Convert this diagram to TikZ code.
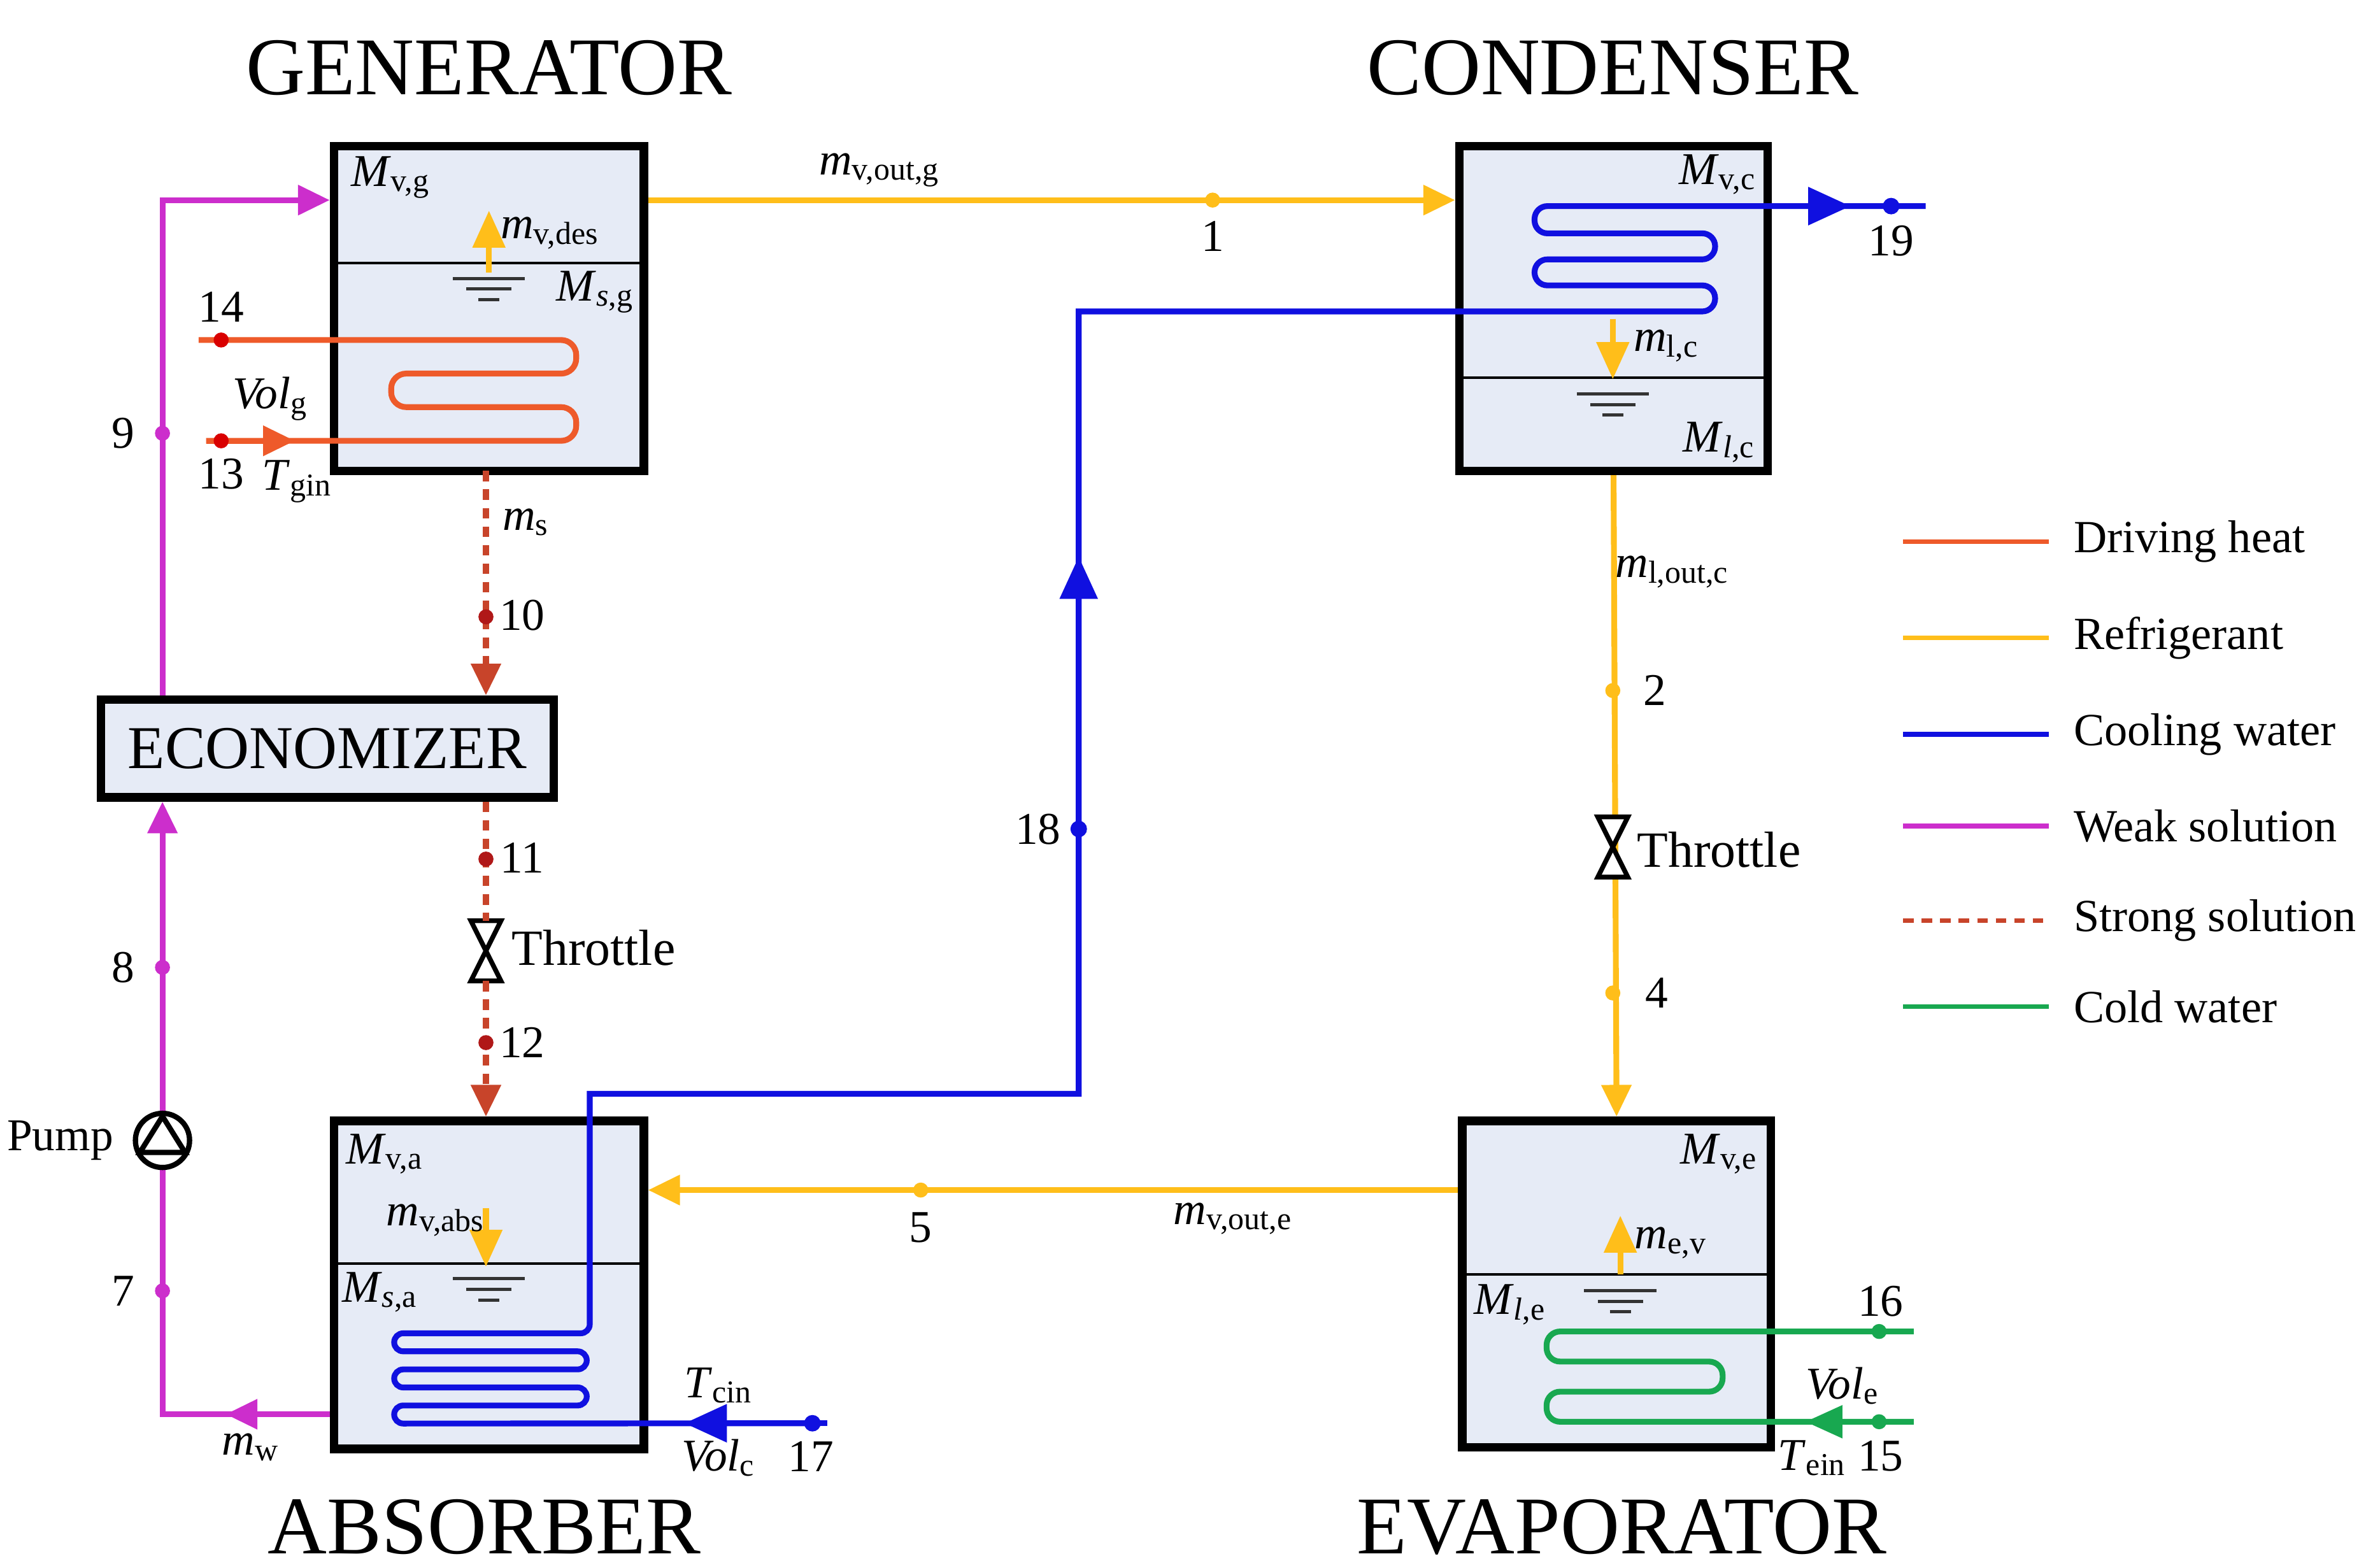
\documentclass[tikz,border=0pt]{standalone}
\usepackage{fontspec}
\setmainfont{Liberation Serif}
\usetikzlibrary{arrows.meta}
\definecolor{boxfill}{HTML}{E6EBF6}
\definecolor{heatc}{HTML}{EE5A2A}
\definecolor{refc}{HTML}{FFBE1A}
\definecolor{cwc}{HTML}{1010E0}
\definecolor{weakc}{HTML}{CC2ECC}
\definecolor{strongc}{HTML}{C8442A}
\definecolor{sdotc}{HTML}{B01818}
\definecolor{coldc}{HTML}{18A850}
\newcommand{\qty}[2]{\textit{#1}\textsubscript{#2}}
\tikzset{
  box/.style={draw, line width=1.6pt, fill=boxfill, inner sep=0pt},
  ref/.style={refc, line width=1.1pt},
  cw/.style={cwc, line width=1.1pt},
  heat/.style={heatc, line width=1.1pt},
  weak/.style={weakc, line width=1.1pt},
  strong/.style={strongc, line width=1.1pt, dashed, dash pattern=on 2pt off 1.5pt},
  cold/.style={coldc, line width=1.1pt},
  tip/.style={-{Triangle[length=6pt,width=5.5pt]}},
  lab/.style={font=\fontsize{8.6}{10}\selectfont, inner sep=1pt},
  title/.style={font=\fontsize{15.5}{17}\selectfont},
  leg/.style={font=\fontsize{8.7}{10}\selectfont, anchor=west},
  valve/.style={draw, fill=white, line width=0.9pt},
}
\begin{document}
\begin{tikzpicture}
\useasboundingbox (0,0) rectangle (15.68,-10.42);

% vessels
\node[box, minimum width=2.06cm, minimum height=2.16cm] (gen) at (3.25,-2.05) {};
\node[box, minimum width=2.05cm, minimum height=2.16cm] (cond) at (10.725,-2.05) {};
\node[box, minimum width=2.06cm, minimum height=2.18cm] (abs) at (3.25,-8.54) {};
\node[box, minimum width=2.05cm, minimum height=2.17cm] (evap) at (10.745,-8.535) {};
\node[box, minimum width=3.01cm, minimum height=0.65cm, font=\fontsize{11.5}{13}\selectfont] (econ) at (2.175,-4.975) {ECONOMIZER};

\draw[line width=0.5pt] (2.22,-1.75) -- (4.28,-1.75);
\draw[line width=0.5pt] (9.70,-2.51) -- (11.75,-2.51);
\draw[line width=0.5pt] (2.22,-8.40) -- (4.28,-8.40);
\draw[line width=0.5pt] (9.72,-8.47) -- (11.77,-8.47);

\node[title] (tgen) at (3.25,-0.45) {GENERATOR};
\node[title] (tcond) at (10.72,-0.45) {CONDENSER};
\node[title] (tabs) at (3.22,-10.15) {ABSORBER};
\node[title] (tevap) at (10.78,-10.15) {EVAPORATOR};

% liquid levels
\foreach \x/\y in {3.25/-1.85, 10.72/-2.62, 3.25/-8.50, 10.77/-8.58}{
  \draw[line width=0.6pt, black!80] (\x-0.24,\y) -- (\x+0.24,\y)
    (\x-0.15,\y-0.07) -- (\x+0.15,\y-0.07) (\x-0.07,\y-0.14) -- (\x+0.07,\y-0.14);
}

% point coordinates
\coordinate (p1) at (8.06,-1.33);
\coordinate (p2) at (10.72,-4.59);
\coordinate (p4) at (10.72,-6.60);
\coordinate (p5) at (6.12,-7.91);
\coordinate (p7) at (1.08,-8.58);
\coordinate (p8) at (1.08,-6.43);
\coordinate (p9) at (1.08,-2.88);
\coordinate (p10) at (3.23,-4.10);
\coordinate (p11) at (3.23,-5.71);
\coordinate (p12) at (3.23,-6.93);
\coordinate (p13) at (1.47,-2.93);
\coordinate (p14) at (1.47,-2.26);
\coordinate (p15) at (12.49,-9.45);
\coordinate (p16) at (12.49,-8.85);
\coordinate (p17) at (5.40,-9.46);
\coordinate (p18) at (7.17,-5.51);
\coordinate (p19) at (12.57,-1.37);

% refrigerant
\draw[ref, tip] (gen.east |- p1) -- (cond.west |- p1);
\draw[ref, tip] (cond.south) -- (evap.north);
\draw[ref, tip] (evap.west |- p5) -- (abs.east |- p5);
\draw[ref, -{Triangle[length=7pt,width=6pt]}] (3.25,-1.81) -- (3.25,-1.40);
\draw[ref, -{Triangle[length=7pt,width=6pt]}] (10.72,-2.12) -- (10.72,-2.52);
\draw[ref, -{Triangle[length=7pt,width=6pt]}] (3.23,-8.03) -- (3.23,-8.42);
\draw[ref, -{Triangle[length=7pt,width=6pt]}] (10.77,-8.47) -- (10.77,-8.08);
\foreach \p in {p1,p2,p4,p5} \fill[refc] (\p) circle (0.05);

% throttles
\draw[valve] (10.62,-5.43) -- (10.82,-5.43) -- (10.62,-5.83) -- (10.82,-5.83) -- cycle;
\draw[valve] (3.13,-6.12) -- (3.33,-6.12) -- (3.13,-6.52) -- (3.33,-6.52) -- cycle;
\node[lab, anchor=west, font=\fontsize{9.6}{11}\selectfont] (thcl) at (10.84,-5.65) {Throttle};
\node[lab, anchor=west, font=\fontsize{9.6}{11}\selectfont] (thsl) at (3.36,-6.30) {Throttle};

% weak solution
\draw[weak, tip] (abs.west |- 0,-9.40) -- (1.08,-9.40) -- (econ.south -| 1.08,0);
\draw[weak, tip] (abs.west |- 0,-9.40) -- (1.50,-9.40);
\draw[weak, tip] (econ.north -| 1.08,0) -- (1.08,-1.33) -- (gen.west |- 0,-1.33);
\foreach \p in {p7,p8,p9} \fill[weakc] (\p) circle (0.05);
\node[draw, fill=white, circle, line width=1pt, minimum size=0.36cm, inner sep=0pt] (pump) at (1.08,-7.58) {};
\draw[line width=1pt] (0.93,-7.66) -- (1.23,-7.66) -- (1.08,-7.42) -- cycle;

% strong solution
\draw[strong, tip] (3.23,-3.13) -- (econ.north -| 3.23,0);
\draw[strong, tip] (econ.south -| 3.23,0) -- (3.23,-6.12) (3.23,-6.52) -- (abs.north -| 3.23,0);
\foreach \p in {p10,p11,p12} \fill[sdotc] (\p) circle (0.05);

% driving heat coil
\draw[heat, rounded corners=0.1cm] (1.32,-2.26) -- (3.83,-2.26) -- (3.83,-2.483) -- (2.60,-2.483)
  -- (2.60,-2.706) -- (3.83,-2.706) -- (3.83,-2.93) -- (1.37,-2.93);
\draw[heat, tip] (1.37,-2.93) -- (1.96,-2.93);
\foreach \p in {p13,p14} \fill[red!85!black] (\p) circle (0.05);

% cooling water
\draw[cw] (p17) -- (5.50,-9.46);
\draw[cw, rounded corners=0.06cm] (p17) -- (2.62,-9.462) -- (2.62,-9.342) -- (3.90,-9.342)
  -- (3.90,-9.222) -- (2.62,-9.222) -- (2.62,-9.102) -- (3.90,-9.102) -- (3.90,-8.982)
  -- (2.62,-8.982) -- (2.62,-8.862) -- (3.92,-8.862) [sharp corners] -- (3.92,-7.27)
  -- (7.17,-7.27) -- (7.17,-2.07) [rounded corners=0.085cm] -- (11.40,-2.07) -- (11.40,-1.897)
  -- (10.20,-1.897) -- (10.20,-1.724) -- (11.40,-1.724) -- (11.40,-1.551) -- (10.20,-1.551)
  -- (10.20,-1.37) -- (12.80,-1.37);
\draw[cw, -{Triangle[length=8pt,width=7pt]}] (p17) -- (4.55,-9.46);
\draw[cw, -{Triangle[length=8pt,width=7pt]}] (p18) -- (7.17,-3.70);
\draw[cw, -{Triangle[length=8pt,width=7pt]}] (11.40,-1.37) -- (12.30,-1.37);
\foreach \p in {p17,p18,p19} \fill[cwc] (\p) circle (0.055);

% cold water coil
\draw[cold, rounded corners=0.09cm] (12.72,-8.85) -- (10.28,-8.85) -- (10.28,-9.05) -- (11.45,-9.05)
  -- (11.45,-9.25) -- (10.28,-9.25) -- (10.28,-9.45) -- (12.72,-9.45);
\draw[cold, -{Triangle[length=7pt,width=6pt]}] (p15) -- (12.00,-9.45);
\foreach \p in {p15,p16} \fill[coldc] (\p) circle (0.05);

% labels
\node[lab] (lmvg) at (2.60,-1.18) {\qty{M}{v,g}};
\node[lab] (lmvdes) at (3.66,-1.55) {\qty{m}{v,des}};
\node[lab] (lmsg) at (3.96,-1.94) {\qty{M}{\textit{s},g}};
\node[lab] (lmvc) at (11.42,-1.16) {\qty{M}{v,c}};
\node[lab] (lmlc) at (11.08,-2.30) {\qty{m}{l,c}};
\node[lab] (lmllc) at (11.43,-2.94) {\qty{M}{\textit{l},c}};
\node[lab] (lmva) at (2.56,-7.67) {\qty{M}{v,a}};
\node[lab] (lmvabs) at (2.90,-8.11) {\qty{m}{v,abs}};
\node[lab] (lmsa) at (2.53,-8.59) {\qty{M}{\textit{s},a}};
\node[lab] (lmve) at (11.43,-7.67) {\qty{M}{v,e}};
\node[lab] (lmev) at (11.11,-8.26) {\qty{m}{e,v}};
\node[lab] (lmle) at (10.04,-8.67) {\qty{M}{\textit{l},e}};
\node[lab] (lmvog) at (5.85,-1.13) {\qty{m}{v,out,g}};
\node[lab] (lmloc) at (11.12,-3.80) {\qty{m}{l,out,c}};
\node[lab] (lmvoe) at (8.20,-8.10) {\qty{m}{v,out,e}};
\node[lab] (lms) at (3.50,-3.47) {\qty{m}{s}};
\node[lab] (lmw) at (1.67,-9.62) {\qty{m}{w}};
\node[lab] (lvolg) at (1.80,-2.65) {\qty{Vol}{g}};
\node[lab] (ltgin) at (1.98,-3.20) {\qty{T}{gin}};
\node[lab] (ltcin) at (4.78,-9.21) {\qty{T}{cin}};
\node[lab] (lvolc) at (4.78,-9.69) {\qty{Vol}{c}};
\node[lab] (lvole) at (12.25,-9.21) {\qty{Vol}{e}};
\node[lab] (ltein) at (12.05,-9.69) {\qty{T}{ein}};
\node[lab] (lpump) at (0.40,-7.58) {Pump};

\node[lab] (n1) at (8.06,-1.57) {1};
\node[lab] (n2) at (11.00,-4.59) {2};
\node[lab] (n4) at (11.01,-6.60) {4};
\node[lab] (n5) at (6.12,-8.16) {5};
\node[lab] (n7) at (0.82,-8.58) {7};
\node[lab] (n8) at (0.82,-6.43) {8};
\node[lab] (n9) at (0.82,-2.88) {9};
\node[lab] (n10) at (3.47,-4.09) {10};
\node[lab] (n11) at (3.47,-5.70) {11};
\node[lab] (n12) at (3.47,-6.93) {12};
\node[lab] (n13) at (1.47,-3.15) {13};
\node[lab] (n14) at (1.47,-2.04) {14};
\node[lab] (n15) at (12.50,-9.68) {15};
\node[lab] (n16) at (12.50,-8.65) {16};
\node[lab] (n17) at (5.39,-9.68) {17};
\node[lab] (n18) at (6.90,-5.51) {18};
\node[lab] (n19) at (12.57,-1.60) {19};

% legend
\foreach \y/\s/\t in {3.60/heat/Driving heat, 4.24/ref/Refrigerant, 4.88/cw/Cooling water,
    5.49/weak/Weak solution, 6.12/strong/Strong solution, 6.69/cold/Cold water}{
  \draw[\s, line width=0.9pt] (12.65,-\y) -- (13.62,-\y);
  \node[leg] at (13.66,-\y) {\t};
}
\end{tikzpicture}
\end{document}
